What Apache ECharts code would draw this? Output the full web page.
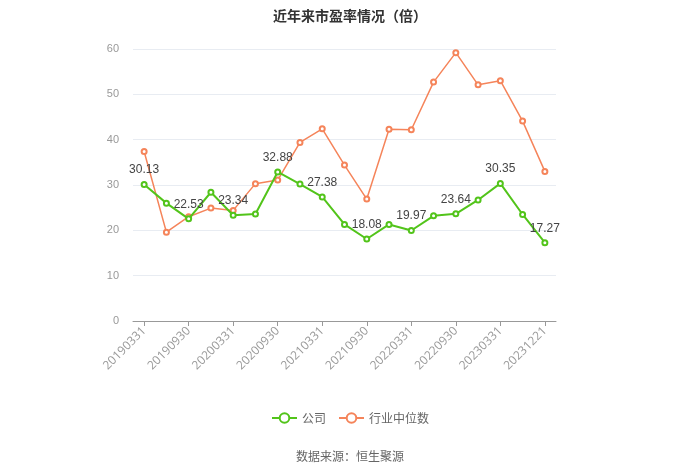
<!DOCTYPE html>
<html>
<head>
<meta charset="utf-8">
<script src="https://cdn.jsdelivr.net/npm/echarts@6/dist/echarts.min.js"></script>
<style>html,body{margin:0;padding:0;background:#fff}#c{width:700px;height:473px}</style>
</head>
<body>
<div id="c"></div>
<script>
var categories = ['20190331','20190630','20190930','20191231','20200331','20200630','20200930','20201231','20210331','20210630','20210930','20211231','20220331','20220630','20220930','20221231','20230331','20230630','20231221'];
var companyPE = [30.13,26.0,22.53,28.4,23.34,23.6,32.88,30.2,27.38,21.3,18.08,21.3,19.97,23.2,23.64,26.7,30.35,23.5,17.27];
var industryPE = [37.4,19.6,23.0,24.9,24.4,30.3,31.1,39.4,42.4,34.4,26.9,42.3,42.2,52.7,59.2,52.1,53.0,44.1,33.0];
var yTicks = [0,10,20,30,40,50,60];
var seriesNames = ['公司','行业中位数'];

var chart = echarts.init(document.getElementById('c'));
chart.setOption({
  animation:false,
  title:{text:'近年来市盈率情况（倍）',left:'center',top:4,textStyle:{fontSize:14,fontWeight:'bold',color:'#333',fontFamily:'Noto Sans CJK SC'}},
  grid:{left:133,right:144,top:49,bottom:152},
  legend:{bottom:44,left:'center',itemWidth:25,itemHeight:12,itemGap:12,textStyle:{color:'#666',fontSize:12,fontFamily:'Noto Sans CJK SC'},data:seriesNames},
  graphic:[{type:'text',left:'center',top:450,style:{text:'数据来源：恒生聚源',fill:'#666',fontSize:12,fontFamily:'Noto Sans CJK SC'}}],
  xAxis:{type:'category',data:categories,boundaryGap:true,
    axisLine:{lineStyle:{color:'#999'}},
    axisTick:{show:true,alignWithLabel:true,interval:1,lineStyle:{color:'#999'}},
    axisLabel:{rotate:45,interval:1,color:'#999',fontSize:12,fontFamily:'Open Sans'}},
  yAxis:{type:'value',min:yTicks[0],max:yTicks[yTicks.length-1],interval:10,
    axisLine:{show:false},axisTick:{show:false},
    axisLabel:{color:'#999',fontSize:11,margin:14},
    splitLine:{lineStyle:{color:'#e8ecf2'}}},
  series:[
    {name:seriesNames[0],type:'line',data:companyPE,symbol:'emptyCircle',symbolSize:5,
     itemStyle:{color:'#52c41a',borderColor:'#52c41a',borderWidth:1.5},
     emphasis:{disabled:true},
     lineStyle:{color:'#52c41a',width:2},z:3,
     label:{show:true,position:'top',color:'#444',fontSize:12,
       formatter:function(p){return p.dataIndex%2===0?p.value.toFixed(2):'';}}},
    {name:seriesNames[1],type:'line',data:industryPE,symbol:'emptyCircle',symbolSize:5,
     itemStyle:{color:'#f5845a',borderColor:'#f5845a',borderWidth:1.5},
     lineStyle:{color:'#f5845a',width:1.5},z:2}
  ]
});
</script>
</body>
</html>
